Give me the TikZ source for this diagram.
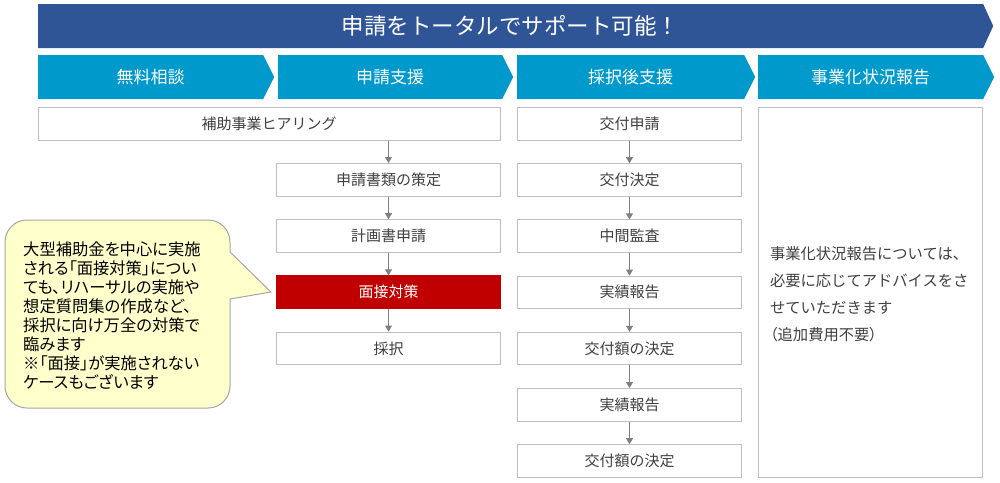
\documentclass[tikz,border=0pt]{standalone}
\usepackage{fontspec}
\setmainfont{Noto Sans CJK JP}
\newfontfamily\notefont[RawFeature=+palt]{Noto Sans CJK JP}
\usetikzlibrary{positioning,shapes.symbols,arrows.meta}
\definecolor{bannerblue}{HTML}{2F5597}
\definecolor{phaseblue}{HTML}{0099CC}
\definecolor{interviewred}{HTML}{C00000}
\definecolor{boxline}{HTML}{BFBFBF}
\definecolor{textgray}{HTML}{404040}
\definecolor{arrowgray}{HTML}{7F7F7F}
\definecolor{memofill}{HTML}{FFFFCC}
\definecolor{memoline}{HTML}{A6A6A6}

\begin{document}
\begin{tikzpicture}[x=1pt, y=-1pt, node distance=22.7pt,
  phase/.style={signal, signal to=east, signal from=nowhere, signal pointer angle=127,
    fill=phaseblue, text=white, minimum width=236pt, minimum height=44pt,
    inner sep=0pt, anchor=west, font=\fontsize{17}{20}\selectfont},
  stepbox/.style={draw=boxline, line width=1pt, fill=white, text=textgray,
    minimum width=224pt, minimum height=32.5pt, inner sep=0pt,
    font=\fontsize{15}{18}\selectfont},
  flow/.style={color=arrowgray, line width=1pt, -{Triangle[width=7pt,length=6pt]}}]
  \useasboundingbox (0,0) rectangle (1000,482);

  \node[phase, signal pointer angle=131, minimum width=955pt,
    fill=bannerblue, font=\fontsize{22.5}{26}\selectfont] (banner) at (38,26)
    {申請をトータルでサポート可能！};
  \node[phase] (consult) at (38,77) {無料相談};
  \node[phase, minimum width=235pt] (apply) at (278,77) {申請支援};
  \node[phase, minimum width=238pt] (after) at (517,77) {採択後支援};
  \node[phase] (report) at (758,77) {事業化状況報告};

  \node[stepbox, minimum width=462pt, anchor=north] (hear) at (269,107) {補助事業ヒアリング};
  \node[stepbox, anchor=north] (s1) at (388.5,163) {申請書類の策定};
  \node[stepbox, below=of s1] (s2) {計画書申請};
  \node[stepbox, below=of s2, fill=interviewred, draw=interviewred, text=white] (s3) {面接対策};
  \node[stepbox, below=of s3] (s4) {採択};

  \node[stepbox, anchor=north] (p1) at (629.5,107) {交付申請};
  \node[stepbox, below=of p1] (p2) {交付決定};
  \node[stepbox, below=of p2] (p3) {中間監査};
  \node[stepbox, below=of p3] (p4) {実績報告};
  \node[stepbox, below=of p4] (p5) {交付額の決定};
  \node[stepbox, below=of p5] (p6) {実績報告};
  \node[stepbox, below=of p6] (p7) {交付額の決定};

  \node[stepbox, minimum height=370pt, anchor=north] (result) at (870,107) {};
  \node[text width=200pt, align=left, inner sep=0pt, text=textgray,
    font=\fontsize{15.3}{27}\selectfont] (resultnote) at (870,294)
    {事業化状況報告については、\\必要に応じてアドバイスをさ\\せていただきます\\{\notefont（}追加費用不要{\notefont ）}};

  \path[flow]
    (s1 |- hear.south) edge (s1)
    (s1) edge (s2)
    (s2) edge (s3)
    (s3) edge (s4)
    (p1) edge (p2)
    (p2) edge (p3)
    (p3) edge (p4)
    (p4) edge (p5)
    (p5) edge (p6)
    (p6) edge (p7);

  \coordinate (ptop) at (230,252);
  \coordinate (pbot) at (230,299);
  \coordinate (ptip) at (271,292);
  \draw[fill=memofill, draw=memoline, line width=1pt]
    (ptop) -- (230,242) arc[start angle=0, end angle=90, radius=22pt]
    -- (27,220) arc[start angle=90, end angle=180, radius=22pt]
    -- (5,386) arc[start angle=180, end angle=270, radius=22pt]
    -- (208,408) arc[start angle=270, end angle=360, radius=22pt]
    -- (pbot) -- (ptip) -- cycle;
  \node[anchor=north west, inner sep=0pt, align=left,
    font=\notefont\fontsize{16.3}{19}\selectfont] (memo) at (23,242)
    {大型補助金を中心に実施\\される「面接対策」につい\\ても、リハーサルの実施や\\想定質問集の作成など、\\採択に向け万全の対策で\\臨みます\\※「面接」が実施されない\\ケースもございます};
\end{tikzpicture}
\end{document}
